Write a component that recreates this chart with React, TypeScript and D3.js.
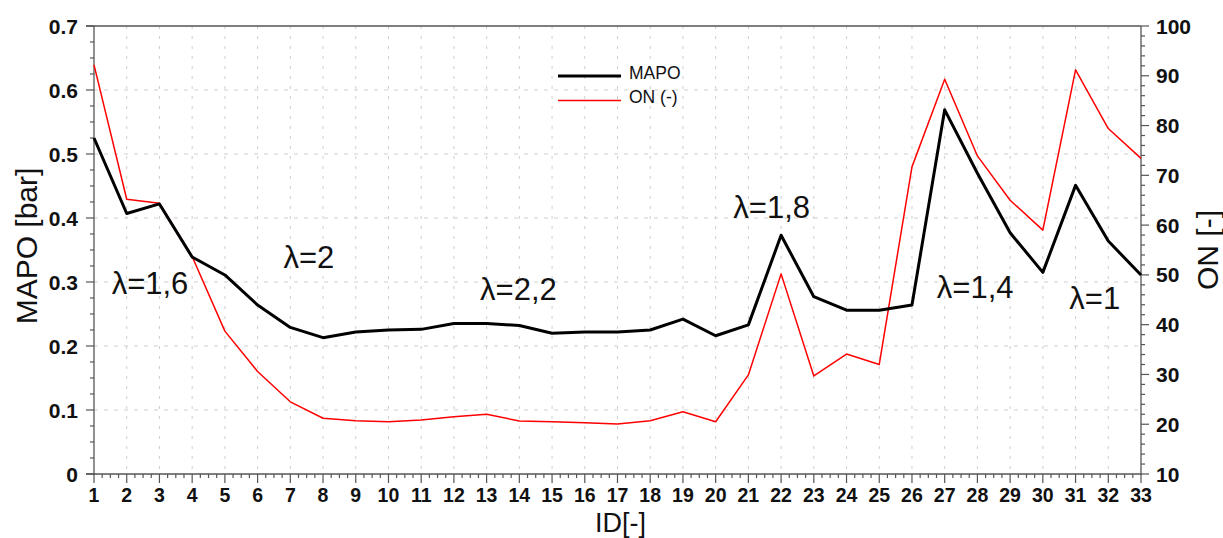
import React from "react";
import * as d3 from "d3";

const ids = [1,2,3,4,5,6,7,8,9,10,11,12,13,14,15,16,17,18,19,20,21,22,23,24,25,26,27,28,29,30,31,32,33];
const mapo = [0.525,0.407,0.422,0.339,0.311,0.264,0.229,0.213,0.222,0.225,0.226,0.235,0.235,0.232,0.220,0.222,0.222,0.225,0.242,0.216,0.233,0.373,0.277,0.256,0.256,0.264,0.569,0.470,0.377,0.315,0.451,0.364,0.311];
const onVals = [92.2,65.2,64.4,53.7,38.7,30.6,24.5,21.2,20.7,20.5,20.85,21.5,22.0,20.65,20.5,20.3,20.05,20.7,22.5,20.5,29.9,50.2,29.7,34.1,32.0,71.7,89.3,73.9,65.0,59.0,91.2,79.4,73.4];
const leftTicks = [0,0.1,0.2,0.3,0.4,0.5,0.6,0.7];
const rightTicks = [10,20,30,40,50,60,70,80,90,100];
const annoText = ["λ=1,6","λ=2","λ=2,2","λ=1,8","λ=1,4","λ=1"];
const annoX = [1.54,6.79,12.8,20.54,26.76,30.81];
const annoY = [0.281,0.322,0.272,0.400,0.275,0.258];

const W = 1223, H = 538;
const L = 94, R = 1141, T = 26, B = 474;
const FONT = "'Liberation Sans', Arial, sans-serif";
const AXIS = "#555";

export default function App() {
  const x = d3.scaleLinear().domain([1, 33]).range([L, R]);
  const yl = d3.scaleLinear().domain([0, 0.7]).range([B, T]);
  const yr = d3.scaleLinear().domain([10, 100]).range([B, T]);

  const lineL = d3.line<number>().x((_, i) => x(ids[i])).y((d) => yl(d));
  const lineR = d3.line<number>().x((_, i) => x(ids[i])).y((d) => yr(d));

  const minorX = d3.range(1, 33.001, 0.25);
  const minorL = d3.range(0, 0.7001, 0.025);
  const minorR = d3.range(10, 100.001, 2);

  return (
    <svg width={W} height={H} style={{ position: "absolute", left: 0, top: 0, background: "#fff" }} fontFamily={FONT}>
      <rect x={0} y={0} width={W} height={H} fill="#fff" />
      {/* grid */}
      {ids.slice(1, -1).map((d) => (
        <line key={"gx" + d} x1={x(d)} x2={x(d)} y1={T} y2={B} stroke="#cfcfcf" strokeWidth={1} strokeDasharray="3,7" />
      ))}
      {leftTicks.slice(1, -1).map((d) => (
        <line key={"gy" + d} x1={L} x2={R} y1={yl(d)} y2={yl(d)} stroke="#cfcfcf" strokeWidth={1} strokeDasharray="4,6" />
      ))}
      {/* frame */}
      <line x1={L - 8} x2={R} y1={T} y2={T} stroke={AXIS} strokeWidth={1.3} />
      <line x1={L} x2={L} y1={T} y2={B + 1} stroke={AXIS} strokeWidth={1.3} />
      <line x1={R} x2={R} y1={T} y2={B + 1} stroke={AXIS} strokeWidth={1.3} />
      <line x1={L - 8} x2={R} y1={B} y2={B} stroke={AXIS} strokeWidth={1.3} />
      {/* x ticks */}
      {minorX.map((d, i) => (
        <line key={"mx" + i} x1={x(d)} x2={x(d)} y1={B} y2={B + (i % 4 === 0 ? 9 : 4)} stroke={AXIS} strokeWidth={1.2} />
      ))}
      {ids.map((d) => (
        <text key={"tx" + d} x={x(d)} y={502} textAnchor="middle" fontSize={19.5} fontWeight="bold" fill="#111">{d}</text>
      ))}
      {/* left ticks */}
      {minorL.map((d, i) => (
        <line key={"ml" + i} x1={L - (i % 4 === 0 ? 8 : 4)} x2={L} y1={yl(d)} y2={yl(d)} stroke={AXIS} strokeWidth={1.2} />
      ))}
      {leftTicks.map((d) => (
        <text key={"tl" + d} x={78} y={yl(d) + 7.5} textAnchor="end" fontSize={21} fontWeight="bold" fill="#111">{d === 0 ? "0" : d.toFixed(1)}</text>
      ))}
      {/* right ticks */}
      {minorR.map((d, i) => (
        <line key={"mr" + i} x1={R} x2={R + (i % 5 === 0 ? 8 : 4)} y1={yr(d)} y2={yr(d)} stroke={AXIS} strokeWidth={1.2} />
      ))}
      {rightTicks.map((d) => (
        <text key={"tr" + d} x={1156} y={yr(d) + 7.5} textAnchor="start" fontSize={21} fontWeight="bold" fill="#111">{d}</text>
      ))}
      {/* axis titles */}
      <text transform={`translate(37,${(T + B) / 2 - 4}) rotate(-90)`} textAnchor="middle" fontSize={30} fill="#111">MAPO [bar]</text>
      <text transform={`translate(1218,${(T + B) / 2}) rotate(-90)`} textAnchor="middle" fontSize={30} fill="#111">ON [-]</text>
      <text x={(L + R) / 2 + 3} y={532} textAnchor="middle" fontSize={27} fill="#111">ID[-]</text>
      {/* lines */}
      <path d={lineR(onVals) || ""} fill="none" stroke="#ff0000" strokeWidth={1.5} strokeLinejoin="round" />
      <path d={lineL(mapo) || ""} fill="none" stroke="#000" strokeWidth={3} strokeLinejoin="round" />
      {/* annotations */}
      {annoText.map((t, i) => (
        <text key={"a" + i} x={x(annoX[i])} y={yl(annoY[i])} fontSize={31} fill="#111">{t}</text>
      ))}
      {/* legend */}
      <line x1={558} x2={621} y1={76} y2={76} stroke="#000" strokeWidth={3} />
      <text x={629} y={79} fontSize={17.5} fill="#111">MAPO</text>
      <line x1={558} x2={621} y1={100.5} y2={100.5} stroke="#ff0000" strokeWidth={1.5} />
      <text x={629} y={103} fontSize={17.5} fill="#111">ON (-)</text>
    </svg>
  );
}
